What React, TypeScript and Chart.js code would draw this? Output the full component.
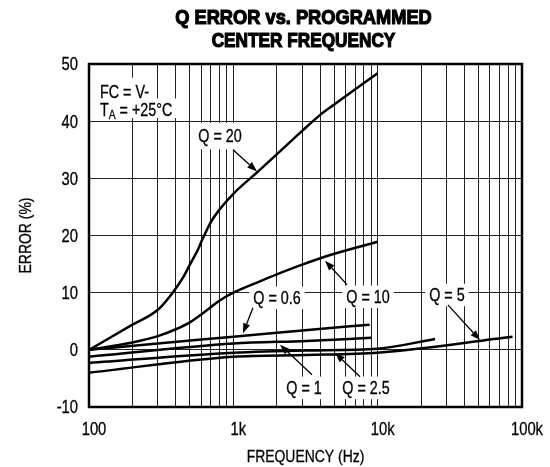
import React, { useEffect, useRef } from "react";
import { Chart, registerables } from "chart.js";

Chart.register(...registerables);

// ---- data ----
const q20Freq = [100, 200, 300, 380, 450, 500, 570, 600, 700, 800, 1000, 1500, 2000, 3000, 4000, 5000, 7000, 10000];
const q20Error = [0, 4.4, 7.0, 10.0, 12.7, 14.9, 17.6, 18.9, 22.4, 24.5, 27.3, 31.3, 34.2, 38.3, 41.1, 42.9, 45.6, 48.4];

const q10Freq = [100, 200, 300, 400, 500, 600, 700, 800, 1000, 1500, 2000, 3000, 5000, 10000];
const q10Error = [0, 1.3, 2.4, 3.6, 4.8, 6.2, 7.5, 8.6, 10.0, 11.9, 13.2, 14.9, 16.8, 18.9];

const q06Freq = [100, 300, 1000, 3000, 8800];
const q06Error = [0, 1.1, 2.3, 3.4, 4.4];

const q1Freq = [100, 1000, 3200, 9000];
const q1Error = [-1.2, 1.1, 1.55, 2.1];

const q25Freq = [100, 1000, 3200, 10000, 25000];
const q25Error = [-2.3, -0.5, -0.1, 0.2, 1.9];

const q5Freq = [100, 1000, 3200, 10000, 86000];
const q5Error = [-4.0, -1.2, -0.9, -0.5, 2.3];

const yTickValues = [-10, 0, 10, 20, 30, 40, 50];
const yTickLabels = ["-10", "0", "10", "20", "30", "40", "50"];
const xMajorTicks = [100, 1000, 10000, 100000];
const xMajorLabels = ["100", "1k", "10k", "100k"];
const xDecades = [100, 1000, 10000];
const titleLines = ["Q ERROR vs. PROGRAMMED", "CENTER FREQUENCY"];
const xTitle = "FREQUENCY (Hz)";
const yTitle = "ERROR (%)";

const FONT = "'Liberation Sans', Arial, sans-serif";
const NARROW = 0.82;

type Part = { text: string; sub?: boolean };
type Label = {
  parts: Part[];
  f: number;
  v: number;
  align: "left" | "center";
  pad: [number, number, number, number]; // top, right, bottom, left
  toAxis?: boolean;
};

const labels: Label[] = [
  { parts: [{ text: "FC = V-" }], f: 119, v: 45.1, align: "left", pad: [8, 5, 5, 0], toAxis: true },
  { parts: [{ text: "T" }, { text: "A", sub: true }, { text: " = +25°C" }], f: 119, v: 42.0, align: "left", pad: [5, 5, 2, 0], toAxis: true },
  { parts: [{ text: "Q = 20" }], f: 809, v: 37.4, align: "center", pad: [7, 4, 7, 4] },
  { parts: [{ text: "Q = 0.6" }], f: 2007, v: 9.1, align: "center", pad: [5, 4, 5, 4] },
  { parts: [{ text: "Q = 10" }], f: 8570, v: 9.27, align: "center", pad: [5, 4, 5, 4] },
  { parts: [{ text: "Q = 5" }], f: 30200, v: 9.6, align: "center", pad: [5, 4, 5, 4] },
  { parts: [{ text: "Q = 1" }], f: 3088, v: -6.65, align: "center", pad: [5, 4, 5, 4] },
  { parts: [{ text: "Q = 2.5" }], f: 8300, v: -6.65, align: "center", pad: [5, 4, 5, 4] },
];

const arrows: { from: [number, number]; to: [number, number] }[] = [
  { from: [995, 35.0], to: [1459, 31.2] },
  { from: [1368, 7.35], to: [1166, 2.9] },
  { from: [6133, 11.4], to: [4315, 15.6] },
  { from: [30700, 7.87], to: [51200, 1.7] },
  { from: [3508, -4.37], to: [2106, 0.9] },
  { from: [7545, -4.72], to: [5062, -0.52] },
];

const LABEL_SIZE = 17.5;
const TICK_SIZE = 18;
const AXIS_TITLE_SIZE = 17;
const CAP = 0.716;
const TITLE_STRETCH = [0.89, 0.84];

function toPoints(xs: number[], ys: number[]) {
  return xs.map((x, i) => ({ x, y: ys[i] }));
}

// draw text horizontally condensed (Helvetica Narrow look)
function narrowText(
  ctx: CanvasRenderingContext2D,
  text: string,
  x: number,
  y: number,
  size: number,
  align: CanvasTextAlign,
  weight = "normal",
  stroke = 0,
  stretch = NARROW
) {
  ctx.save();
  ctx.font = `${weight} ${size}px ${FONT}`;
  ctx.textAlign = align;
  ctx.textBaseline = "alphabetic";
  ctx.translate(x, y);
  ctx.scale(stretch, 1);
  ctx.fillText(text, 0, 0);
  if (stroke > 0) {
    ctx.lineWidth = stroke;
    ctx.strokeText(text, 0, 0);
  }
  ctx.restore();
}

function narrowWidth(ctx: CanvasRenderingContext2D, text: string, size: number) {
  ctx.save();
  ctx.font = `${size}px ${FONT}`;
  const w = ctx.measureText(text).width * NARROW;
  ctx.restore();
  return w;
}

function labelGeometry(ctx: CanvasRenderingContext2D, chart: any, lb: Label) {
  const px = chart.scales.x.getPixelForValue(lb.f);
  const py = chart.scales.y.getPixelForValue(lb.v);
  let width = 0;
  for (const p of lb.parts) width += narrowWidth(ctx, p.text, p.sub ? LABEL_SIZE * 0.72 : LABEL_SIZE);
  const left = lb.align === "center" ? px - width / 2 : px;
  return { left, width, cy: py, capH: LABEL_SIZE * CAP };
}

const annotationPlugin = {
  id: "qAnnotations",
  beforeDatasetsDraw(chart: any) {
    const ctx: CanvasRenderingContext2D = chart.ctx;
    const area = chart.chartArea;
    ctx.save();
    ctx.fillStyle = "#fff";
    for (const lb of labels) {
      const g = labelGeometry(ctx, chart, lb);
      const [pt, pr, pb, pl] = lb.pad;
      const x0 = lb.toAxis ? area.left + 1.5 : g.left - pl;
      const x1 = g.left + g.width + pr;
      const y0 = g.cy - g.capH / 2 - pt;
      const y1 = g.cy + g.capH / 2 + pb;
      ctx.fillRect(x0, y0, x1 - x0, y1 - y0);
    }
    ctx.restore();
  },
  afterDraw(chart: any) {
    const ctx: CanvasRenderingContext2D = chart.ctx;
    const area = chart.chartArea;
    const xs = chart.scales.x;
    const ys = chart.scales.y;
    ctx.save();
    // frame
    ctx.strokeStyle = "#000";
    ctx.lineWidth = 2.5;
    ctx.strokeRect(area.left, area.top, area.right - area.left, area.bottom - area.top);

    ctx.fillStyle = "#000";
    ctx.strokeStyle = "#000";

    // y tick labels
    const capT = TICK_SIZE * CAP;
    yTickValues.forEach((v, i) => {
      const py = ys.getPixelForValue(v);
      narrowText(ctx, yTickLabels[i], area.left - 11, py + capT / 2, TICK_SIZE, "right", "normal", 0.3);
    });
    // x tick labels
    xMajorTicks.forEach((v, i) => {
      const px = xs.getPixelForValue(v);
      narrowText(ctx, xMajorLabels[i], px + 5, area.bottom + 15 + capT, TICK_SIZE, "center", "normal", 0.3);
    });
    // axis titles
    const capA = AXIS_TITLE_SIZE * CAP;
    narrowText(ctx, xTitle, (area.left + area.right) / 2, area.bottom + 43 + capA, AXIS_TITLE_SIZE, "center", "normal", 0.3);
    ctx.save();
    ctx.translate(25 + capA / 2, (area.top + area.bottom) / 2);
    ctx.rotate(-Math.PI / 2);
    narrowText(ctx, yTitle, 0, 0, AXIS_TITLE_SIZE, "center", "normal", 0.3);
    ctx.restore();

    // labels
    for (const lb of labels) {
      const g = labelGeometry(ctx, chart, lb);
      let x = g.left;
      const base = g.cy + g.capH / 2;
      for (const p of lb.parts) {
        const size = p.sub ? LABEL_SIZE * 0.72 : LABEL_SIZE;
        narrowText(ctx, p.text, x, p.sub ? base + 3 : base, size, "left", "normal", 0.3);
        x += narrowWidth(ctx, p.text, size);
      }
    }

    // arrows
    ctx.lineWidth = 1.3;
    for (const a of arrows) {
      const x0 = xs.getPixelForValue(a.from[0]);
      const y0 = ys.getPixelForValue(a.from[1]);
      const x1 = xs.getPixelForValue(a.to[0]);
      const y1 = ys.getPixelForValue(a.to[1]);
      const ang = Math.atan2(y1 - y0, x1 - x0);
      const hl = 10;
      const hw = 3.6;
      const bx = x1 - hl * Math.cos(ang);
      const by = y1 - hl * Math.sin(ang);
      ctx.beginPath();
      ctx.moveTo(x0, y0);
      ctx.lineTo(bx, by);
      ctx.stroke();
      ctx.beginPath();
      ctx.moveTo(x1, y1);
      ctx.lineTo(bx + hw * Math.sin(ang), by - hw * Math.cos(ang));
      ctx.lineTo(bx - hw * Math.sin(ang), by + hw * Math.cos(ang));
      ctx.closePath();
      ctx.fill();
    }

    // title
    const cx = (area.left + area.right) / 2 - 2;
    const baselines = [24, 47];
    titleLines.forEach((t, i) => {
      narrowText(ctx, t, cx, baselines[i], 20.5, "center", "bold", 1.2, TITLE_STRETCH[i]);
    });
    ctx.restore();
  },
};

export default function App() {
  const ref = useRef<HTMLCanvasElement | null>(null);

  useEffect(() => {
    document.body.style.margin = "0";
    const canvas = ref.current;
    if (!canvas) return;

    const xGridTicks: number[] = [];
    for (const d of xDecades) for (let m = 1; m <= 9; m++) xGridTicks.push(m * d);
    xGridTicks.push(xMajorTicks[xMajorTicks.length - 1]);

    const series = [
      { f: q20Freq, e: q20Error },
      { f: q10Freq, e: q10Error },
      { f: q06Freq, e: q06Error },
      { f: q1Freq, e: q1Error },
      { f: q25Freq, e: q25Error },
      { f: q5Freq, e: q5Error },
    ];
    const names = ["Q = 20", "Q = 10", "Q = 0.6", "Q = 1", "Q = 2.5", "Q = 5"];

    const chart = new Chart(canvas, {
      type: "line",
      data: {
        datasets: series.map((s, i) => ({
          label: names[i],
          data: toPoints(s.f, s.e),
          borderColor: "#000",
          borderWidth: 2.5,
          pointRadius: 0,
          fill: false,
          cubicInterpolationMode: "monotone" as const,
        })),
      },
      options: {
        responsive: false,
        animation: false,
        devicePixelRatio: 1,
        layout: { padding: { top: 64, right: 28, left: 0, bottom: 0 } },
        plugins: {
          legend: { display: false },
          title: { display: false },
          tooltip: { enabled: false },
        },
        scales: {
          x: {
            type: "logarithmic",
            min: 100,
            max: 100000,
            afterBuildTicks: (scale: any) => {
              scale.ticks = xGridTicks.map((v) => ({ value: v }));
            },
            afterFit: (scale: any) => {
              scale.height = 60;
            },
            ticks: { display: false, autoSkip: false },
            grid: { color: "#222", lineWidth: 1, drawTicks: false },
            border: { display: false },
            title: { display: false },
          },
          y: {
            type: "linear",
            min: -10,
            max: 50,
            afterBuildTicks: (scale: any) => {
              scale.ticks = yTickValues.map((v) => ({ value: v }));
            },
            afterFit: (scale: any) => {
              scale.width = 89;
            },
            ticks: { display: false },
            grid: { color: "#222", lineWidth: 1, drawTicks: false },
            border: { display: false },
            title: { display: false },
          },
        },
      },
      plugins: [annotationPlugin],
    });

    return () => chart.destroy();
  }, []);

  return (
    <div style={{ width: 550, height: 467 }}>
      <canvas ref={ref} width={550} height={467} style={{ display: "block" }} />
    </div>
  );
}
